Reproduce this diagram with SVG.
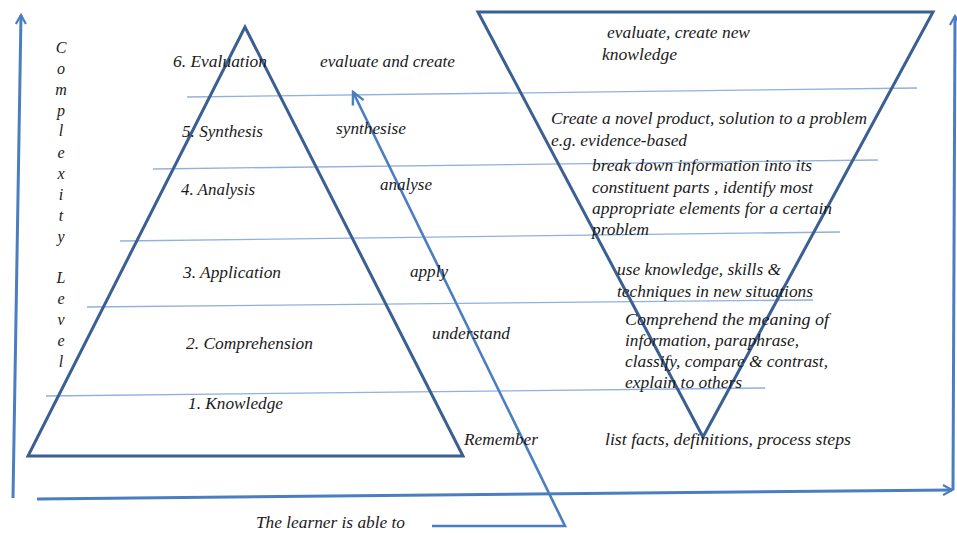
<svg xmlns="http://www.w3.org/2000/svg" width="957" height="533" viewBox="0 0 957 533">
<defs>
<style>
.t{font-family:"Liberation Serif","Times New Roman",serif;font-style:italic;font-size:16px;fill:#1a1a1a}
.v{font-family:"Liberation Serif","Times New Roman",serif;font-style:italic;font-size:16px;fill:#1a1a1a;text-anchor:middle}
.tri{fill:none;stroke:#3a5f93;stroke-width:3;stroke-linejoin:miter}
.band{stroke:#8fb1dd;stroke-width:1.3;fill:none}
.ax{stroke:#4a7ec0;stroke-width:3;fill:none}
.arr{stroke:#4a7ec0;stroke-width:2.6;fill:none}
</style>
<marker id="ah" viewBox="0 0 12 12" refX="10" refY="6" markerWidth="12" markerHeight="12" markerUnits="userSpaceOnUse" orient="auto">
<path d="M1,1 L10,6 L1,11" fill="none" stroke="#4a7ec0" stroke-width="2.2"/>
</marker>
<marker id="ah2" viewBox="0 0 16 16" refX="14" refY="8" markerWidth="16" markerHeight="16" markerUnits="userSpaceOnUse" orient="auto">
<path d="M2,2 L14,8 L2,14" fill="none" stroke="#4a7ec0" stroke-width="2.4"/>
</marker>
</defs>
<rect width="957" height="533" fill="#ffffff"/>

<g id="axes">
<line class="ax" x1="13" y1="498" x2="21" y2="15" marker-end="url(#ah)"/>
<line class="ax" x1="37" y1="499" x2="952" y2="490" marker-end="url(#ah)"/>
<line class="ax" x1="953" y1="490" x2="955" y2="16" marker-end="url(#ah)"/>
</g>

<g id="bands">
<line class="band" x1="187" y1="97" x2="917" y2="88"/>
<line class="band" x1="153" y1="169" x2="878" y2="160"/>
<line class="band" x1="120" y1="241" x2="840" y2="232"/>
<line class="band" x1="87" y1="307" x2="813" y2="300"/>
<line class="band" x1="46" y1="396" x2="765" y2="388"/>
</g>

<g id="pyramid">
<polygon class="tri" points="245,27 28,456 463,456"/>
</g>

<g id="funnel">
<polygon class="tri" points="478,12 933,12 703,437"/>
</g>

<g id="connectors">
<polyline class="arr" points="432,526 565,526 353,92" marker-end="url(#ah2)"/>
</g>

<g id="complexity-label">
<text class="v" x="61" y="53">C</text>
<text class="v" x="61" y="74">o</text>
<text class="v" x="61" y="95">m</text>
<text class="v" x="61" y="116">p</text>
<text class="v" x="61" y="136">l</text>
<text class="v" x="61" y="158">e</text>
<text class="v" x="61" y="179">x</text>
<text class="v" x="61" y="200">i</text>
<text class="v" x="61" y="221">t</text>
<text class="v" x="61" y="242">y</text>
<text class="v" x="61" y="283">L</text>
<text class="v" x="61" y="304">e</text>
<text class="v" x="61" y="325">v</text>
<text class="v" x="61" y="346">e</text>
<text class="v" x="61" y="367">l</text>
</g>

<g id="levels">
<text class="t" x="173" y="67" textLength="94" lengthAdjust="spacingAndGlyphs">6. Evaluation</text>
<text class="t" x="182" y="137" textLength="81" lengthAdjust="spacingAndGlyphs">5. Synthesis</text>
<text class="t" x="181" y="195" textLength="74" lengthAdjust="spacingAndGlyphs">4. Analysis</text>
<text class="t" x="183" y="278" textLength="98" lengthAdjust="spacingAndGlyphs">3. Application</text>
<text class="t" x="186" y="349" textLength="127" lengthAdjust="spacingAndGlyphs">2. Comprehension</text>
<text class="t" x="188" y="409" textLength="95" lengthAdjust="spacingAndGlyphs">1. Knowledge</text>
</g>

<g id="verbs">
<text class="t" x="320" y="67" textLength="135" lengthAdjust="spacingAndGlyphs">evaluate and create</text>
<text class="t" x="336" y="134" textLength="70" lengthAdjust="spacingAndGlyphs">synthesise</text>
<text class="t" x="380" y="190" textLength="52" lengthAdjust="spacingAndGlyphs">analyse</text>
<text class="t" x="410" y="277" textLength="38" lengthAdjust="spacingAndGlyphs">apply</text>
<text class="t" x="432" y="339" textLength="78" lengthAdjust="spacingAndGlyphs">understand</text>
<text class="t" x="464" y="445" textLength="74" lengthAdjust="spacingAndGlyphs">Remember</text>
<text class="t" x="256" y="528" textLength="149" lengthAdjust="spacingAndGlyphs">The learner is able to</text>
</g>

<g id="descriptions">
<text class="t" x="607" y="38" textLength="143" lengthAdjust="spacingAndGlyphs">evaluate, create new</text>
<text class="t" x="602" y="60" textLength="75" lengthAdjust="spacingAndGlyphs">knowledge</text>
<text class="t" x="551" y="124" textLength="316" lengthAdjust="spacingAndGlyphs">Create a novel product, solution  to a problem</text>
<text class="t" x="551" y="146" textLength="136" lengthAdjust="spacingAndGlyphs">e.g. evidence-based</text>
<text class="t" x="592" y="171" textLength="220" lengthAdjust="spacingAndGlyphs">break down information into its</text>
<text class="t" x="592" y="193" textLength="221" lengthAdjust="spacingAndGlyphs">constituent parts , identify  most</text>
<text class="t" x="592" y="214" textLength="240" lengthAdjust="spacingAndGlyphs">appropriate elements for a certain</text>
<text class="t" x="592" y="235" textLength="57" lengthAdjust="spacingAndGlyphs">problem</text>
<text class="t" x="617" y="275" textLength="164" lengthAdjust="spacingAndGlyphs">use knowledge, skills &amp;</text>
<text class="t" x="617" y="297" textLength="196" lengthAdjust="spacingAndGlyphs">techniques in new situations</text>
<text class="t" x="625" y="325" textLength="204" lengthAdjust="spacingAndGlyphs">Comprehend  the meaning of</text>
<text class="t" x="625" y="346" textLength="174" lengthAdjust="spacingAndGlyphs">information, paraphrase,</text>
<text class="t" x="625" y="367" textLength="203" lengthAdjust="spacingAndGlyphs">classify,  compare &amp; contrast,</text>
<text class="t" x="625" y="388" textLength="117" lengthAdjust="spacingAndGlyphs">explain to others</text>
<text class="t" x="605" y="445" textLength="246" lengthAdjust="spacingAndGlyphs">list  facts, definitions, process  steps</text>
</g>
</svg>
